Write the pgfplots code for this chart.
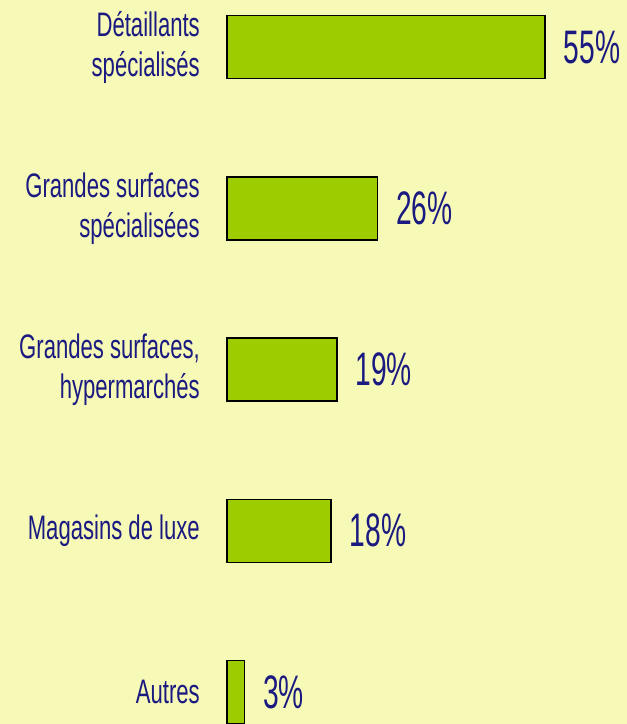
\documentclass[border=0pt]{standalone}
\usepackage{fontspec}
\setmainfont{Liberation Sans}[FakeStretch=0.65]
\newfontfamily\numfont{Liberation Sans}[FakeStretch=0.6]
\usepackage{pgfplots}
\pgfplotsset{compat=1.18}
\usetikzlibrary{backgrounds}
\definecolor{bgc}{RGB}{247,249,183}
\definecolor{barc}{RGB}{157,204,0}
\definecolor{txt}{RGB}{26,26,128}
\begin{document}
\begin{tikzpicture}
\begin{axis}[name=ax, scale only axis, width=400pt, height=724pt,
  xmin=0, xmax=69.18, ymin=-0.2915, ymax=4.198, y dir=reverse,
  axis line style={draw=none}, xtick=\empty, ytick={0,1,2,3,4},
  major tick length=0pt,
  /pgf/number format/assume math mode=true,
  yticklabels={{Détaillants\\spécialisés},{Grandes surfaces\\spécialisées},{Grandes surfaces,\\hypermarchés},{Magasins de luxe},{Autres}},
  yticklabel style={align=right, anchor=east, inner sep=0pt, xshift=-27pt, text=txt, font=\fontsize{34}{40}\selectfont},
  xbar, bar width=63pt, bar shift=0pt,
  point meta=x,
  nodes near coords={\pgfmathprintnumber{\pgfplotspointmeta}\%},
  every node near coord/.append style={font=\numfont\fontsize{47}{47}\selectfont, text=txt, anchor=west, inner sep=0pt, xshift=18pt},
  clip=false]
\addplot[fill=barc, draw=black, line width=1.5pt] coordinates {(55,0) (26,1) (19,2) (18,3) (3,4)};
\end{axis}
\begin{scope}[on background layer]
\fill[bgc] ([xshift=-227pt]ax.south west) rectangle (ax.north east);
\end{scope}
\pgfresetboundingbox
\useasboundingbox ([xshift=-227pt]ax.south west) rectangle (ax.north east);
\end{tikzpicture}
\end{document}
